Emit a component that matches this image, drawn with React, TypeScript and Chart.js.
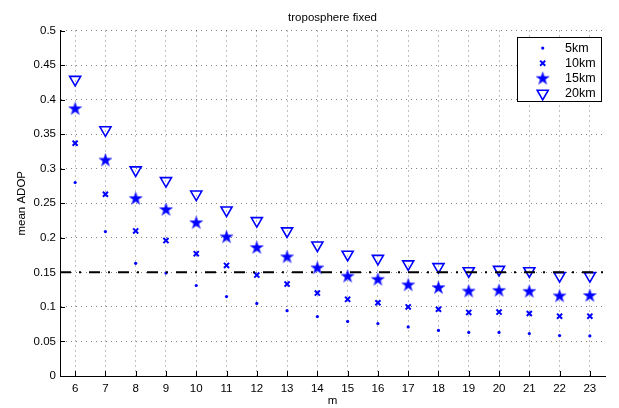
import React, { useEffect, useRef } from "react";
import { Chart, registerables } from "chart.js";
import { drawPoint } from "chart.js/helpers";

Chart.register(...registerables);

// ---------- data ----------
const mValues = [6, 7, 8, 9, 10, 11, 12, 13, 14, 15, 16, 17, 18, 19, 20, 21, 22, 23];
const series5km = [0.280, 0.209, 0.163, 0.149, 0.131, 0.115, 0.105, 0.0945, 0.086, 0.079, 0.076, 0.071, 0.066, 0.063, 0.063, 0.0615, 0.0585, 0.058];
const series10km = [0.337, 0.263, 0.210, 0.196, 0.177, 0.160, 0.146, 0.133, 0.120, 0.111, 0.106, 0.100, 0.0966, 0.092, 0.0925, 0.0905, 0.0866, 0.0866];
const series15km = [0.387, 0.3125, 0.257, 0.241, 0.222, 0.2015, 0.186, 0.1725, 0.1566, 0.1445, 0.140, 0.132, 0.128, 0.123, 0.124, 0.1226, 0.116, 0.1165];
const series20km = [0.429, 0.356, 0.298, 0.2825, 0.263, 0.240, 0.2246, 0.2097, 0.1893, 0.176, 0.170, 0.162, 0.158, 0.152, 0.154, 0.152, 0.145, 0.145];
const seriesLabels = ["5km", "10km", "15km", "20km"];
const thresholdValue = 0.15;
const xLimits = [5.5, 23.5];
const yTickValues = [0, 0.05, 0.1, 0.15, 0.2, 0.25, 0.3, 0.35, 0.4, 0.45, 0.5];
const titleText = "troposphere fixed";
const xTitle = "m";
const yTitle = "mean ADOP";

const FONT = "'Liberation Sans', Arial, Helvetica, sans-serif";
const BLUE = "#0000ff";

function makeStar(): HTMLCanvasElement {
  const c = document.createElement("canvas");
  c.width = 15;
  c.height = 15;
  const g = c.getContext("2d")!;
  const cx = 7.5, cy = 7.8, R = 6.9, r = 2.8;
  g.beginPath();
  for (let i = 0; i < 10; i++) {
    const rad = (Math.PI / 5) * i - Math.PI / 2;
    const rr = i % 2 === 0 ? R : r;
    const px = cx + Math.cos(rad) * rr;
    const py = cy + Math.sin(rad) * rr;
    if (i === 0) g.moveTo(px, py);
    else g.lineTo(px, py);
  }
  g.closePath();
  g.fillStyle = BLUE;
  g.fill();
  g.strokeStyle = "rgba(90,90,255,0.8)";
  g.lineWidth = 0.8;
  g.stroke();
  return c;
}

const inwardTicks = {
  id: "inwardTicks",
  afterDatasetsDraw(chart: any) {
    const { ctx, chartArea, scales } = chart;
    const xs = scales.x, ys = scales.y;
    ctx.save();
    ctx.strokeStyle = "#000";
    ctx.lineWidth = 1;
    ctx.setLineDash([]);
    ctx.beginPath();
    xs.ticks.forEach((t: any) => {
      const px = Math.round(xs.getPixelForValue(t.value)) + 0.5;
      ctx.moveTo(px, chartArea.bottom);
      ctx.lineTo(px, chartArea.bottom - 5);
    });
    ys.ticks.forEach((t: any) => {
      const py = Math.round(ys.getPixelForValue(t.value)) + 0.5;
      ctx.moveTo(chartArea.left, py);
      ctx.lineTo(chartArea.left + 5, py);
    });
    ctx.stroke();
    ctx.restore();
  },
};

const insideLegend = {
  id: "insideLegend",
  afterDraw(chart: any) {
    const { ctx, chartArea } = chart;
    const items = chart.data.datasets.filter((d: any) => seriesLabels.includes(d.label));
    const w = 84, h = 64;
    const left = Math.round(chartArea.right - 4.5 - w) + 0.5;
    const top = Math.round(chartArea.top + 6.2) + 0.5;
    ctx.save();
    ctx.setLineDash([]);
    ctx.fillStyle = "#fff";
    ctx.fillRect(left, top, w, h);
    ctx.strokeStyle = "#000";
    ctx.lineWidth = 1;
    ctx.strokeRect(left, top, w, h);
    ctx.font = `12.5px ${FONT}`;
    ctx.textBaseline = "middle";
    ctx.textAlign = "left";
    items.forEach((ds: any, i: number) => {
      const y = top + 10.6 + i * 15.1;
      const x = left + 25.2;
      ctx.save();
      ctx.fillStyle = ds.backgroundColor;
      ctx.strokeStyle = ds.borderColor;
      ctx.lineWidth = ds.borderWidth;
      drawPoint(ctx, {
        pointStyle: ds.pointStyle,
        radius: ds.pointRadius,
        rotation: ds.rotation || 0,
        borderWidth: ds.borderWidth,
      }, x, y);
      ctx.restore();
      ctx.fillStyle = "#000";
      ctx.fillText(ds.label, left + 47.5, y + 0.5);
    });
    ctx.restore();
  },
};

export default function App() {
  const ref = useRef<HTMLCanvasElement | null>(null);

  useEffect(() => {
    document.body.style.margin = "0";
    const canvas = ref.current!;
    const star = makeStar();
    const pts = (arr: number[]) => mValues.map((m, i) => ({ x: m, y: arr[i] }));
    const tickFont = { family: FONT, size: 11.5 };

    const chart = new Chart(canvas, {
      type: "scatter",
      data: {
        datasets: [
          {
            label: "threshold",
            type: "line",
            data: [
              { x: xLimits[0], y: thresholdValue },
              { x: xLimits[1], y: thresholdValue },
            ],
            borderColor: "#000",
            borderWidth: 2,
            borderDash: [11, 8, 2, 8],
            pointRadius: 0,
            fill: false,
            order: 0,
          } as any,
          {
            label: seriesLabels[0],
            data: pts(series5km),
            pointStyle: "circle",
            pointRadius: 1.6,
            backgroundColor: BLUE,
            borderColor: BLUE,
            borderWidth: 0,
            order: 1,
          },
          {
            label: seriesLabels[1],
            data: pts(series10km),
            pointStyle: "crossRot",
            pointRadius: 3.6,
            backgroundColor: BLUE,
            borderColor: BLUE,
            borderWidth: 2,
            order: 1,
          },
          {
            label: seriesLabels[2],
            data: pts(series15km),
            pointStyle: star as any,
            pointRadius: 7,
            backgroundColor: BLUE,
            borderColor: BLUE,
            borderWidth: 0,
            order: 1,
          },
          {
            label: seriesLabels[3],
            data: pts(series20km),
            pointStyle: "triangle",
            rotation: 180,
            pointRadius: 6.4,
            backgroundColor: "rgba(0,0,0,0)",
            borderColor: BLUE,
            borderWidth: 1.6,
            order: 1,
          } as any,
        ],
      },
      options: {
        animation: false,
        responsive: false,
        devicePixelRatio: 1,
        events: [],
        layout: { padding: { left: 0, right: 14, top: 0, bottom: 0 } },
        plugins: {
          legend: { display: false },
          tooltip: { enabled: false },
          title: {
            display: true,
            text: titleText,
            fullSize: false,
            color: "#000",
            font: { family: FONT, size: 11.5, weight: "normal", lineHeight: 1.2 },
            padding: { top: 10.5, bottom: 6.2 },
          },
        },
        scales: {
          x: {
            type: "linear",
            min: xLimits[0],
            max: xLimits[1],
            afterBuildTicks: (s: any) => {
              s.ticks = mValues.map((v) => ({ value: v }));
            },
            afterFit: (s: any) => {
              s.height = 32;
            },
            grid: { color: "rgba(0,0,0,0.5)", lineWidth: 1, drawTicks: false },
            border: { display: true, color: "#000", width: 1, dash: [1, 4] },
            ticks: {
              font: tickFont,
              color: "#000",
              padding: 5.5,
              maxRotation: 0,
              autoSkip: false,
              callback: (v: any) => String(v),
            },
            title: {
              display: true,
              text: xTitle,
              color: "#000",
              font: { family: FONT, size: 11.5, lineHeight: 1 },
              padding: { top: 0, bottom: 1.2 },
            },
          },
          y: {
            type: "linear",
            min: 0,
            max: 0.5,
            afterBuildTicks: (s: any) => {
              s.ticks = yTickValues.map((v) => ({ value: v }));
            },
            afterFit: (s: any) => {
              s.width = 60;
            },
            grid: { color: "rgba(0,0,0,0.5)", lineWidth: 1, drawTicks: false },
            border: { display: true, color: "#000", width: 1, dash: [1, 4] },
            ticks: {
              font: tickFont,
              color: "#000",
              padding: 4,
              callback: (v: any) => String(Math.round(Number(v) * 100) / 100),
            },
            title: {
              display: true,
              text: yTitle,
              color: "#000",
              font: { family: FONT, size: 11.5, lineHeight: 1 },
              padding: { top: 16.5, bottom: 0 },
            },
          },
        },
      } as any,
      plugins: [inwardTicks, insideLegend],
    });

    return () => chart.destroy();
  }, []);

  return (
    <canvas
      ref={ref}
      width={619}
      height={408}
      style={{ display: "block", width: 619, height: 408 }}
    />
  );
}
